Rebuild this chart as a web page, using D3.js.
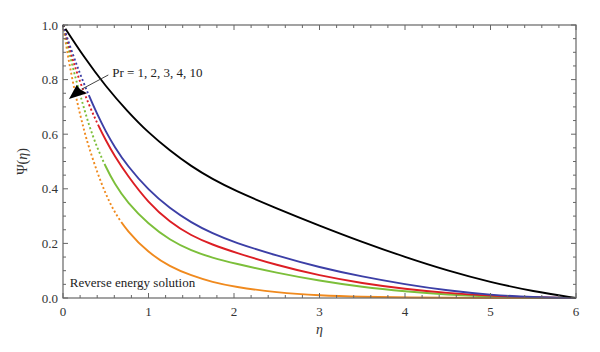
<!DOCTYPE html>
<html lang="en">
  <head>
    <meta charset="utf-8" />
    <title>Reverse energy solution</title>
    <style>
      body {
        margin: 0;
        background: #fff;
      }
      svg {
        display: block;
        font-family: "Liberation Serif", "DejaVu Serif", serif;
      }
      .tick-label {
        font-size: 13px;
        fill: #333;
      }
      .frame {
        fill: none;
        stroke: #666;
        stroke-width: 1.2px;
      }
      .tick {
        stroke: #666;
        stroke-width: 1px;
      }
      .curve {
        fill: none;
        stroke-width: 1.9px;
      }
    </style>
  </head>
  <body>
    <svg width="600" height="352"></svg>

    <script src="https://d3js.org/d3.v7.min.js"></script>
    <script>
      // values
      const etaBlack = [0, 0.25, 0.5, 0.75, 1, 1.25, 1.5, 1.75, 2, 2.5, 3, 3.5, 4, 4.5, 5, 5.5, 6];
      const psiBlack = [1, 0.88, 0.775, 0.685, 0.605, 0.54, 0.482, 0.435, 0.395, 0.328, 0.265, 0.205, 0.15, 0.1, 0.058, 0.024, 0];

      const etaColored = [0, 0.1, 0.2, 0.3, 0.4, 0.5, 0.6, 0.75, 1, 1.25, 1.5, 1.75, 2, 2.5, 3, 3.5, 4, 4.5, 5, 5.5, 6];
      const psiBlue = [1, 0.905, 0.82, 0.743, 0.673, 0.61, 0.555, 0.485, 0.395, 0.328, 0.276, 0.236, 0.204, 0.155, 0.112, 0.078, 0.05, 0.027, 0.011, 0.003, 0];
      const psiRed = [1, 0.885, 0.79, 0.71, 0.64, 0.578, 0.522, 0.45, 0.348, 0.278, 0.228, 0.195, 0.168, 0.12, 0.082, 0.054, 0.033, 0.018, 0.008, 0.002, 0];
      const psiGreen = [1, 0.86, 0.745, 0.635, 0.55, 0.48, 0.42, 0.35, 0.27, 0.212, 0.173, 0.147, 0.127, 0.092, 0.063, 0.04, 0.024, 0.012, 0.005, 0.001, 0];

      const etaOrange = [0, 0.05, 0.1, 0.15, 0.2, 0.25, 0.3, 0.4, 0.5, 0.6, 0.75, 1, 1.25, 1.5, 1.75, 2, 2.5, 3, 3.5, 4, 5, 6];
      const psiOrange = [1, 0.9, 0.815, 0.74, 0.672, 0.61, 0.555, 0.46, 0.38, 0.315, 0.245, 0.165, 0.115, 0.082, 0.058, 0.041, 0.02, 0.009, 0.004, 0.0015, 0, 0];

      const xTicks = [0, 1, 2, 3, 4, 5, 6];
      const yTicks = [0, 0.2, 0.4, 0.6, 0.8, 1.0];

      // drawing styles: colour and where the sparse (dotted) part ends
      const series = [
        { eta: etaOrange, psi: psiOrange, color: "#f08a1e", dotTo: 0.7 },
        { eta: etaColored, psi: psiGreen, color: "#7cbf3a", dotTo: 0.5 },
        { eta: etaColored, psi: psiRed, color: "#dc1e24", dotTo: 0.42 },
        { eta: etaColored, psi: psiBlue, color: "#3c3fa6", dotTo: 0.32 },
        { eta: etaBlack, psi: psiBlack, color: "#000", dotTo: 0.05 },
      ];

      const margin = { left: 63, right: 24, top: 25, bottom: 54 };
      const width = 600;
      const height = 352;

      const svg = d3.select("svg");

      const x = d3.scaleLinear().domain([0, 6]).range([margin.left, width - margin.right]);
      const y = d3.scaleLinear().domain([0, 1]).range([height - margin.bottom, margin.top]);

      const line = d3
        .line()
        .x((d) => x(d[0]))
        .y((d) => y(d[1]))
        .curve(d3.curveBasis);

      // curves: dotted near the top, solid after dotTo
      const curves = svg.append("g");
      series.forEach((s) => {
        const pts = s.eta.map((e, i) => [e, s.psi[i]]);
        const path = curves
          .append("path")
          .attr("class", "curve")
          .attr("stroke", s.color)
          .attr("d", line(pts));

        const node = path.node();
        const total = node.getTotalLength();
        const xCut = x(s.dotTo);
        let lo = 0,
          hi = total;
        for (let k = 0; k < 30; k++) {
          const mid = (lo + hi) / 2;
          if (node.getPointAtLength(mid).x < xCut) lo = mid;
          else hi = mid;
        }
        const dash = [];
        let acc = 0;
        while (acc + 4.4 < lo) {
          dash.push(2, 2.4);
          acc += 4.4;
        }
        dash.push(total + 10, 0);
        path.attr("stroke-dasharray", dash.join(" "));
      });

      // frame + inward ticks on all sides
      const [x0, x1] = x.range();
      const [y0, y1] = y.range();
      svg
        .append("rect")
        .attr("class", "frame")
        .attr("x", x0)
        .attr("y", y1)
        .attr("width", x1 - x0)
        .attr("height", y0 - y1);

      const ticks = svg.append("g");
      const xMinor = d3.range(0, 6.001, 0.2);
      const yMinor = d3.range(0, 1.001, 0.05);
      const isMajorX = (v) => Math.abs(v - Math.round(v)) < 1e-6;
      const isMajorY = (v) => Math.abs(v * 5 - Math.round(v * 5)) < 1e-6;

      xMinor.forEach((v) => {
        const len = isMajorX(v) ? 5 : 3;
        ticks.append("line").attr("class", "tick")
          .attr("x1", x(v)).attr("x2", x(v)).attr("y1", y0).attr("y2", y0 - len);
        ticks.append("line").attr("class", "tick")
          .attr("x1", x(v)).attr("x2", x(v)).attr("y1", y1).attr("y2", y1 + len);
      });
      yMinor.forEach((v) => {
        const len = isMajorY(v) ? 5 : 3;
        ticks.append("line").attr("class", "tick")
          .attr("x1", x0).attr("x2", x0 + len).attr("y1", y(v)).attr("y2", y(v));
        ticks.append("line").attr("class", "tick")
          .attr("x1", x1).attr("x2", x1 - len).attr("y1", y(v)).attr("y2", y(v));
      });

      // tick labels
      svg
        .append("g")
        .selectAll("text")
        .data(xTicks)
        .join("text")
        .attr("class", "tick-label")
        .attr("x", (d) => x(d))
        .attr("y", y0 + 18)
        .attr("text-anchor", "middle")
        .text((d) => d);

      svg
        .append("g")
        .selectAll("text")
        .data(yTicks)
        .join("text")
        .attr("class", "tick-label")
        .attr("x", x0 - 5)
        .attr("y", (d) => y(d) + 4.5)
        .attr("text-anchor", "end")
        .text((d) => d.toFixed(1));

      // axis titles
      svg
        .append("text")
        .attr("x", (x0 + x1) / 2)
        .attr("y", y0 + 36)
        .attr("text-anchor", "middle")
        .attr("font-size", 14)
        .attr("font-style", "italic")
        .attr("fill", "#333")
        .text("η");

      const yTitle = svg
        .append("text")
        .attr("transform", `translate(27,${(y0 + y1) / 2}) rotate(-90)`)
        .attr("text-anchor", "middle")
        .attr("font-size", 14)
        .attr("fill", "#333");
      yTitle.append("tspan").text("Ψ(");
      yTitle.append("tspan").attr("font-style", "italic").text("η");
      yTitle.append("tspan").text(")");

      // annotation arrow: Pr increasing
      const tip = [0.07, 0.729];
      const from = [0.53, 0.817];
      svg
        .append("line")
        .attr("x1", x(from[0]))
        .attr("y1", y(from[1]))
        .attr("x2", x(0.22))
        .attr("y2", y(0.765))
        .attr("stroke", "#444")
        .attr("stroke-width", 1);
      svg
        .append("path")
        .attr("fill", "#000")
        .attr(
          "d",
          `M${x(tip[0])},${y(tip[1])} L${x(0.16)},${y(0.78)} L${x(0.2)},${y(0.765)} L${x(0.28)},${y(0.75)} Z`
        );
      svg
        .append("text")
        .attr("x", x(0.575))
        .attr("y", y(0.81))
        .attr("font-size", 13)
        .attr("fill", "#222")
        .text("Pr = 1, 2, 3, 4, 10");

      svg
        .append("text")
        .attr("x", x(0.08))
        .attr("y", y(0.04))
        .attr("font-size", 13)
        .attr("fill", "#222")
        .text("Reverse energy solution");
    </script>
  </body>
</html>
